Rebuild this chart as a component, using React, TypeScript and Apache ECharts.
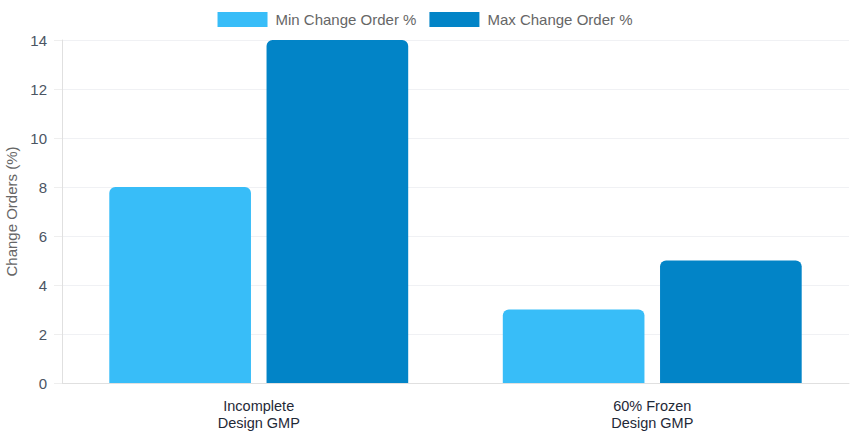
import React, { useEffect, useRef } from "react";
import * as echarts from "echarts";

const categories = ["Incomplete\nDesign GMP", "60% Frozen\nDesign GMP"];
const seriesNames = ["Min Change Order %", "Max Change Order %"];
const minValues = [8, 3];
const maxValues = [14, 5];
const colors = ["#38bdf8", "#0284c7"];

export default function App() {
  const ref = useRef<HTMLDivElement>(null);
  useEffect(() => {
    if (!ref.current) return;
    const chart = echarts.init(ref.current, null, { renderer: "svg" });
    const font = "'Liberation Sans', Arial, Helvetica, sans-serif";
    chart.setOption({
      animation: false,
      textStyle: { fontFamily: font },
      legend: {
        top: 12,
        left: "center",
        padding: 0,
        itemWidth: 50,
        itemHeight: 15,
        itemGap: 13,
        icon: "rect",
        textStyle: { color: "#666666", fontSize: 15, fontFamily: font, padding: [0, 0, 0, 3] },
        data: seriesNames,
      },
      grid: { left: 62, right: 1, top: 40, bottom: 54, containLabel: false, outerBoundsMode: "none" },
      xAxis: {
        type: "category",
        data: categories,
        axisLine: { lineStyle: { color: "#e0e0e0", width: 1 } },
        axisTick: { show: false },
        axisLabel: { color: "#1f2937", fontSize: 14.5, lineHeight: 17, margin: 14, fontFamily: font },
        splitLine: { show: false },
      },
      yAxis: {
        type: "value",
        min: 0,
        max: 14,
        interval: 2,
        name: "Change Orders (%)",
        nameLocation: "middle",
        nameRotate: 90,
        nameGap: 38,
        nameTextStyle: { color: "#666666", fontSize: 15, fontFamily: font },
        axisLine: { show: true, lineStyle: { color: "#e0e0e0", width: 1 } },
        axisTick: { show: true, length: 8, lineStyle: { color: "#eeeeee" } },
        axisLabel: { color: "#4b5563", fontSize: 15, margin: 15, fontFamily: font },
        splitLine: { lineStyle: { color: "#f0f1f4", width: 1 } },
      },
      series: [
        {
          name: seriesNames[0],
          type: "bar",
          data: minValues,
          barWidth: "36%",
          barGap: "11%",
          itemStyle: { color: colors[0], borderRadius: [6, 6, 0, 0] },
        },
        {
          name: seriesNames[1],
          type: "bar",
          data: maxValues,
          barWidth: "36%",
          barGap: "11%",
          itemStyle: { color: colors[1], borderRadius: [6, 6, 0, 0] },
        },
      ],
    });
    return () => chart.dispose();
  }, []);
  return (
    <div
      ref={ref}
      style={{ position: "fixed", left: 0, top: 0, width: 850, height: 437, background: "#ffffff" }}
    />
  );
}
